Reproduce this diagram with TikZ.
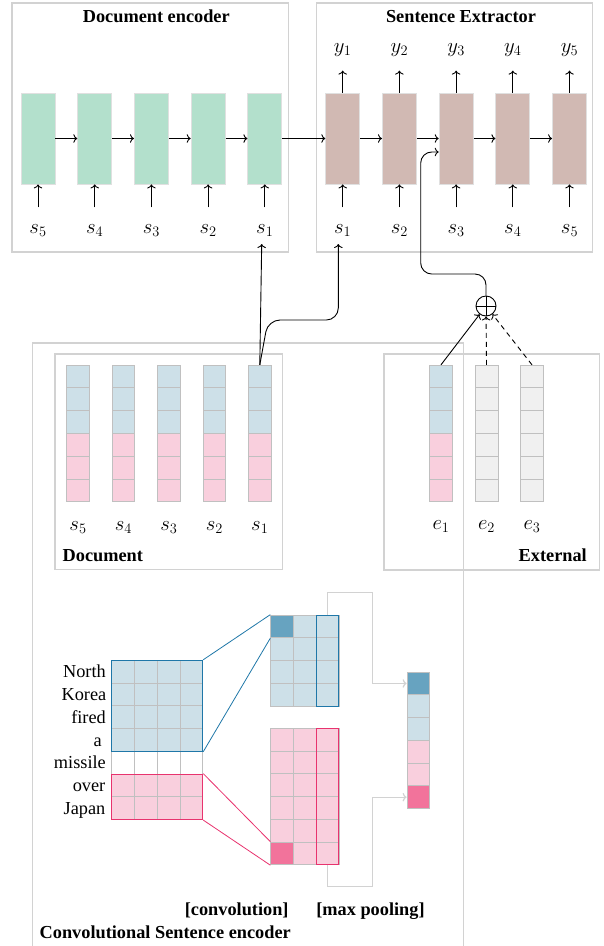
\documentclass[tikz,border=0pt]{standalone}
\usepackage{fontspec}
\setmainfont{Liberation Serif}
\usetikzlibrary{arrows.meta}
\definecolor{encgreen}{RGB}{179,224,204}
\definecolor{extbrown}{RGB}{209,185,179}
\definecolor{lblue}{RGB}{205,224,232}
\definecolor{lpink}{RGB}{249,207,221}
\definecolor{dblue}{RGB}{103,163,192}
\definecolor{dpink}{RGB}{242,115,155}
\definecolor{oblue}{RGB}{31,119,168}
\definecolor{opink}{RGB}{232,51,110}
\definecolor{boxgray}{RGB}{210,210,210}
\definecolor{cellgray}{RGB}{192,192,192}
\definecolor{egray}{RGB}{240,240,240}
\begin{document}
\begin{tikzpicture}[x=1pt,y=-1pt,
  box/.style={draw=boxgray, line width=1.3pt},
  ttl/.style={font=\fontsize{18.3}{22}\selectfont\bfseries, inner sep=0, anchor=base},
  mlab/.style={font=\fontsize{22}{26}\selectfont, inner sep=0, anchor=base},
  wrd/.style={font=\fontsize{18.3}{22}\selectfont, inner sep=0, anchor=base east},
  rnn/.style={draw=white!88!black, line width=0.8pt, minimum width=34pt, minimum height=91pt, inner sep=0},
  arr/.style={-{To[length=4pt,width=8.5pt]}, line width=0.9pt},
  garr/.style={-{To[length=4pt,width=8.5pt]}, draw=boxgray, line width=1.2pt},
  cell/.style={draw=cellgray, line width=0.8pt},
  cellnode/.style={draw=cellgray, line width=0.8pt, minimum size=22.75pt, inner sep=0},
  vec/.style={minimum width=22.8pt, minimum height=136.8pt, inner sep=0},
]
\useasboundingbox (0,0) rectangle (603,946);

% ---------- top boxes ----------
\draw[box] (12,3) rectangle (288.5,252);
\draw[box] (316.5,3) rectangle (592.5,252);
\node[ttl] (tenc) at (156.3,22.7) {Document encoder};
\node[ttl] (text) at (461,22.7) {Sentence Extractor};

\foreach \i/\lab in {1/5,2/4,3/3,4/2,5/1} {
  \pgfmathsetmacro\xx{38+56.7*(\i-1)}
  \node[rnn, fill=encgreen] (enc\i) at (\xx,138.5) {};
  \node[mlab] (els\i) at (\xx,233) {$s_{\lab}$};
  \draw[arr] ([yshift=-23pt]enc\i.south) -- (enc\i.south);
}
\foreach \i in {1,...,5} {
  \pgfmathsetmacro\xx{342.7+56.7*(\i-1)}
  \node[rnn, fill=extbrown] (ext\i) at (\xx,138.5) {};
  \node[mlab] (xls\i) at (\xx,233) {$s_{\i}$};
  \node[mlab] (yl\i) at (\xx,52.5) {$y_{\i}$};
  \draw[arr] ([yshift=-23pt]ext\i.south) -- (ext\i.south);
  \draw[arr] (ext\i.north) -- ([yshift=22pt]ext\i.north);
}
\foreach \i [evaluate=\i as \j using int(\i+1)] in {1,...,4} {
  \draw[arr] (enc\i.east) -- (enc\j.west);
  \draw[arr] (ext\i.east) -- (ext\j.west);
}
\draw[arr] (enc5.east) -- (ext1.west);

% ---------- middle boxes ----------
\draw[box] (32.7,960) -- (32.7,343) -- (463.5,343) -- (463.5,960);
\draw[box] (55,354) rectangle (282.5,569.5);
\draw[box] (384,354) rectangle (599.3,570);
\node[ttl, anchor=base west] (tdoc) at (62.5,561.7) {Document};
\node[ttl, anchor=base east] (textn) at (587,561.7) {External};

\foreach \i/\lab in {1/5,2/4,3/3,4/2,5/1} {
  \pgfmathsetmacro\xx{78+45.45*(\i-1)}
  \node[vec] (dv\i) at (\xx,433.4) {};
  \foreach \k in {0,1,2}
    \draw[cell, fill=lblue] ({\xx-11.4},{365+22.8*\k}) rectangle ++(22.8,22.8);
  \foreach \k in {3,4,5}
    \draw[cell, fill=lpink] ({\xx-11.4},{365+22.8*\k}) rectangle ++(22.8,22.8);
  \node[mlab] (dls\i) at (\xx,530) {$s_{\lab}$};
}
\foreach \i in {1,2,3} {
  \pgfmathsetmacro\xx{441+45.5*(\i-1)}
  \node[vec] (ev\i) at (\xx,433.4) {};
  \node[mlab] (els\i) at (\xx,529.5) {$e_{\i}$};
}
\foreach \k in {0,1,2}
  \draw[cell, fill=lblue] ({441-11.4},{365+22.8*\k}) rectangle ++(22.8,22.8);
\foreach \k in {3,4,5}
  \draw[cell, fill=lpink] ({441-11.4},{365+22.8*\k}) rectangle ++(22.8,22.8);
\foreach \xx in {486.5,532}
  \foreach \k in {0,...,5}
    \draw[cell, fill=egray] ({\xx-11.4},{365+22.8*\k}) rectangle ++(22.8,22.8);

% ---------- connectors ----------
\coordinate (encin) at (261.7,244);
\coordinate (extin) at (338.3,244);
\draw[arr] (dv5.north) -- (encin);
\draw[arr, rounded corners=12pt] (dv5.north) -- (268,320) -- (338.3,320) -- (extin);

\node[draw, circle, line width=0.9pt, minimum size=20pt, inner sep=0] (oplus) at (486,306) {};
\draw[line width=0.9pt] (oplus.north) -- (oplus.south) (oplus.west) -- (oplus.east);
\draw[arr, rounded corners=11pt] (oplus.north) -- (486,274) -- (420.7,274) -- (420.7,152) -- ([yshift=-13.5pt]ext3.west);
\draw[arr] (ev1.north) -- (oplus);
\draw[arr, dash pattern=on 5pt off 4pt] (ev2.north) -- (oplus);
\draw[arr, dash pattern=on 5pt off 4pt] (ev3.north) -- (oplus);

% ---------- convolutional sentence encoder ----------
\foreach \r in {0,...,3}
  \foreach \c in {0,...,3}
    \draw[cell, fill=lblue] ({111.7+22.75*\c},{660.3+22.75*\r}) rectangle ++(22.75,22.75);
\foreach \c in {0,...,3}
  \draw[cell, fill=white] ({111.7+22.75*\c},{660.3+22.75*4}) rectangle ++(22.75,22.75);
\foreach \r in {5,6}
  \foreach \c in {0,...,3}
    \draw[cell, fill=lpink] ({111.7+22.75*\c},{660.3+22.75*\r}) rectangle ++(22.75,22.75);
\node[draw=oblue, line width=1pt, minimum width=91pt, minimum height=91pt, inner sep=0] (wb) at (157.2,705.8) {};
\node[draw=opink, line width=1pt, minimum width=91pt, minimum height=45.5pt, inner sep=0] (wp) at (157.2,796.8) {};

\foreach \xx/\w [count=\r from 0] in {106/North,106.5/Korea,106/fired,102/a,106/missile,105.5/over,105.5/Japan}
  \node[wrd] (w\r) at (\xx,{677.9+22.75*\r}) {\w};

% convolution output (top)
\foreach \r in {0,...,3}
  \foreach \c in {0,...,2}
    \draw[cell, fill=lblue] ({270.7+22.75*\c},{615+22.75*\r}) rectangle ++(22.75,22.75);
\node[cellnode, fill=dblue] (cb) at (282.1,626.4) {};
\draw[oblue, line width=1pt] (316.2,615) rectangle (338.95,706);
% convolution output (bottom)
\foreach \r in {0,...,5}
  \foreach \c in {0,...,2}
    \draw[cell, fill=lpink] ({270.7+22.75*\c},{728.3+22.75*\r}) rectangle ++(22.75,22.75);
\node[cellnode, fill=dpink] (cp) at (282.1,853.4) {};
\draw[opink, line width=1pt] (316.2,728.3) rectangle (338.95,864.8);

\draw[oblue, line width=0.8pt] (wb.north east) -- (cb.north west) (wb.south east) -- (cb.south west);
\draw[opink, line width=0.8pt] (wp.north east) -- (cp.north west) (wp.south east) -- (cp.south west);

% pooled vector
\foreach \k/\col in {1/dblue,2/lblue,3/lblue,4/lpink,5/lpink,6/dpink}
  \node[cellnode, fill=\col] (o\k) at (418.4,{660.7+22.75*\k}) {};

\coordinate (ctop) at (327.6,615);
\coordinate (cbot) at (327.6,864.8);
\draw[garr] (ctop) -- (327.6,592.7) -- (372.7,592.7) |- (o1.west);
\draw[garr] (cbot) -- (327.6,886.7) -- (372.7,886.7) |- (o6.west);

\node[ttl] (lconv) at (236.7,915) {[convolution]};
\node[ttl] (lpool) at (370.5,915) {[max pooling]};
\node[ttl, anchor=base west] (lcse) at (39.5,938.5) {Convolutional Sentence encoder};
\end{tikzpicture}
\end{document}
